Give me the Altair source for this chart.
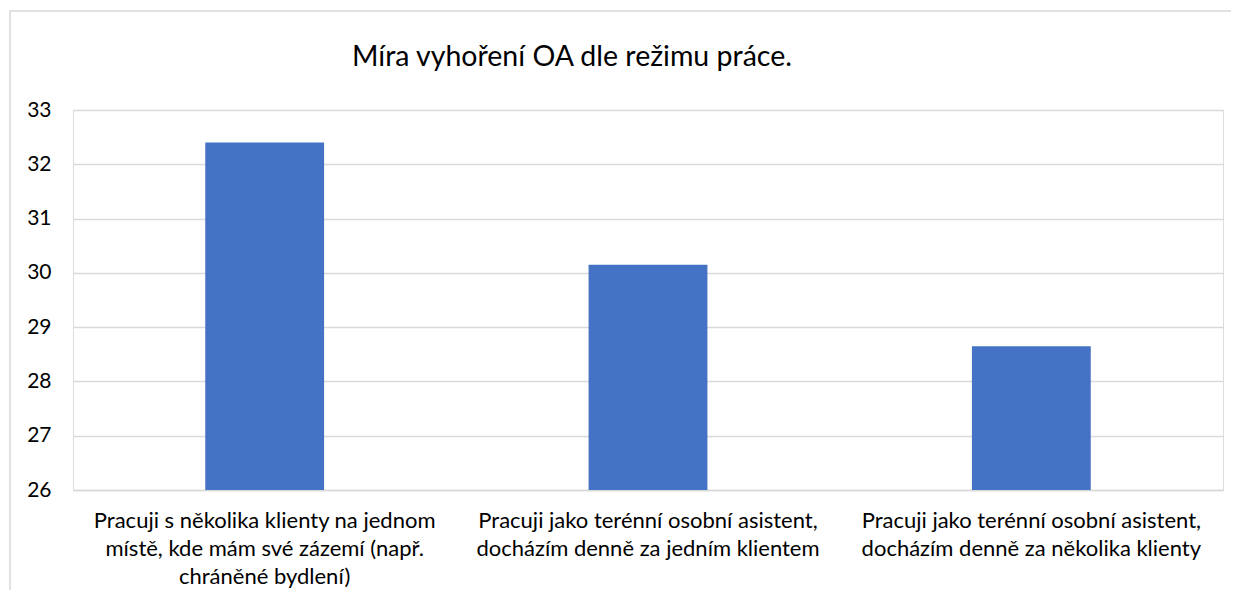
import altair as alt
import pandas as pd

categories = [
    "Pracuji s několika klienty na jednom\nmístě, kde mám své zázemí (např.\nchráněné bydlení)",
    "Pracuji jako terénní osobní asistent,\ndocházím denně za jedním klientem",
    "Pracuji jako terénní osobní asistent,\ndocházím denně za několika klienty",
]
values = [32.4, 30.15, 28.65]
title_text = "Míra vyhoření OA dle režimu práce."

df = pd.DataFrame({"kategorie": categories, "hodnota": values})

FONT = "Lato"
GRID = "#d9d9d9"

bars = alt.Chart(df).mark_bar(color="#4472C4", clip=True).encode(
    x=alt.X(
        "kategorie:N",
        sort=categories,
        title=None,
        scale=alt.Scale(paddingInner=0.69, paddingOuter=0.345),
        axis=alt.Axis(
            labelExpr="split(datum.label, '\\n')",
            labelAngle=0,
            labelFont=FONT,
            labelFontSize=22,
            labelColor="#000000",
            labelLimit=500,
            labelLineHeight=28,
            labelBaseline="alphabetic",
            labelPadding=37,
            ticks=False,
            tickSize=0,
            domainColor=GRID,
            domainWidth=1.5,
            grid=False,
        ),
    ),
    y=alt.Y(
        "hodnota:Q",
        title=None,
        scale=alt.Scale(domain=[26, 33], nice=False, zero=False),
        axis=alt.Axis(
            values=[26, 27, 28, 29, 30, 31, 32, 33],
            format="d",
            labelFont=FONT,
            labelFontSize=21,
            labelColor="#000000",
            labelPadding=22,
            ticks=False,
            tickSize=0,
            domain=False,
            gridColor=GRID,
            gridWidth=1.5,
        ),
    ),
)

border = alt.Chart(pd.DataFrame({"a": [0]})).mark_rect(
    fillOpacity=0, stroke=GRID, strokeWidth=1.5
).encode(
    x=alt.value(-63),
    x2=alt.value(1250),
    y=alt.value(-99),
    y2=alt.value(700),
)

chart = alt.layer(border, bars).properties(
    width=1150,
    height=380,
    padding={"left": 65, "top": 102, "right": 8, "bottom": 100},
    autosize=alt.AutoSizeParams(type="none"),
    title=alt.Title(
        title_text,
        font=FONT,
        fontSize=28.5,
        fontWeight="normal",
        color="#000000",
        anchor="middle",
        frame="group",
        baseline="alphabetic",
        offset=-84,
        dx=-76,
    ),
).configure_view(stroke=None, strokeWidth=0, strokeOpacity=0).configure(background="white")

chart.save("out.html", embed_options={"renderer": "svg", "actions": False})
